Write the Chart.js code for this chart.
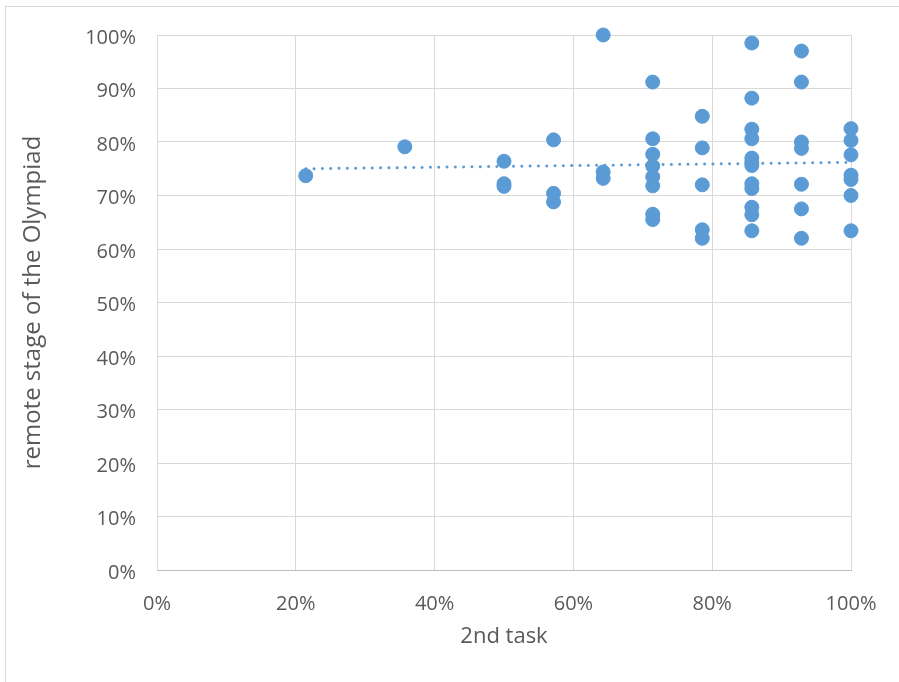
<!DOCTYPE html>
<html>
<head>
<meta charset="utf-8">
<script src="https://cdn.jsdelivr.net/npm/chart.js@4/dist/chart.umd.min.js"></script>
<style>
  html, body { margin: 0; padding: 0; background: #fff; overflow: hidden; }
  #frame { position: absolute; left: 5px; top: 6px; width: 1000px; height: 1000px; border: 1px solid #d9d9d9; }
  #wrap { position: absolute; left: 0; top: 0; width: 899px; height: 682px; }
</style>
</head>
<body>
<div id="frame"></div>
<div id="wrap"><canvas id="c" width="899" height="682"></canvas></div>
<script>
// x values: score on the 2nd task (%), y values: remote stage of the Olympiad (%)
const taskX = [
  21.43,
  35.71,
  50, 50, 50,
  57.14, 57.14, 57.14,
  64.29, 64.29, 64.29,
  71.43, 71.43, 71.43, 71.43, 71.43, 71.43, 71.43, 71.43,
  78.57, 78.57, 78.57, 78.57, 78.57,
  85.71, 85.71, 85.71, 85.71, 85.71, 85.71, 85.71, 85.71, 85.71, 85.71, 85.71, 85.71,
  92.86, 92.86, 92.86, 92.86, 92.86, 92.86, 92.86,
  100, 100, 100, 100, 100, 100, 100
];
const olympiadY = [
  73.7,
  79.1,
  76.4, 72.2, 71.7,
  80.4, 70.4, 68.8,
  100, 74.4, 73.2,
  91.2, 80.6, 77.7, 75.5, 73.5, 71.8, 66.5, 65.5,
  84.8, 78.9, 72.0, 63.6, 62.0,
  98.5, 88.2, 82.4, 80.6, 77.0, 76.2, 75.6, 72.2, 71.3, 67.8, 66.4, 63.4,
  97.0, 91.2, 80.0, 78.8, 72.1, 67.5, 62.0,
  82.5, 80.3, 77.6, 73.8, 73.0, 70.0, 63.4
];
// linear trendline endpoints
const trendX = [21.43, 100];
const trendY = [75.0, 76.2];

const xTitle = '2nd task';
const yTitle = 'remote stage of the Olympiad';

const blue = '#5B9BD5';
const FONT = "'Open Sans', 'Liberation Sans', sans-serif";

const points = taskX.map((x, i) => ({ x: x, y: olympiadY[i] }));
const trend = trendX.map((x, i) => ({ x: x, y: trendY[i] }));

new Chart(document.getElementById('c'), {
  type: 'scatter',
  data: {
    datasets: [
      {
        label: 'data',
        data: points,
        backgroundColor: blue,
        borderColor: blue,
        borderWidth: 1,
        pointRadius: 7,
        pointHoverRadius: 7,
        order: 1
      },
      {
        label: 'trend',
        type: 'line',
        data: trend,
        borderColor: blue,
        borderWidth: 3,
        borderDash: [0.01, 8.3],
        borderCapStyle: 'round',
        pointRadius: 0,
        fill: false,
        order: 0
      }
    ]
  },
  options: {
    responsive: false,
    animation: false,
    devicePixelRatio: 1,
    clip: false,
    layout: { padding: { top: 35, right: 48, bottom: 0, left: 0 } },
    plugins: { legend: { display: false }, tooltip: { enabled: false } },
    scales: {
      x: {
        type: 'linear',
        min: 0, max: 100,
        afterFit: (s) => { s.height = 112; },
        grid: { color: '#d9d9d9', lineWidth: 1, drawTicks: false },
        border: { color: '#bfbfbf', width: 1 },
        ticks: {
          stepSize: 20,
          padding: 22,
          color: '#595959',
          font: { family: FONT, size: 20 },
          callback: (v) => v + '%'
        },
        title: {
          display: true,
          text: xTitle,
          color: '#595959',
          font: { family: FONT, size: 22 },
          padding: { top: 0, bottom: 32 }
        }
      },
      y: {
        type: 'linear',
        min: 0, max: 100,
        afterFit: (s) => { s.width = 157; },
        grid: { color: '#d9d9d9', lineWidth: 1, drawTicks: false },
        border: { display: false },
        ticks: {
          stepSize: 10,
          padding: 21,
          labelOffset: 3,
          color: '#595959',
          font: { family: FONT, size: 20 },
          callback: (v) => v + '%'
        },
        title: {
          display: true,
          text: yTitle,
          color: '#595959',
          font: { family: FONT, size: 24 },
          padding: { top: 19, bottom: 0 }
        }
      }
    }
  }
});
</script>
</body>
</html>
